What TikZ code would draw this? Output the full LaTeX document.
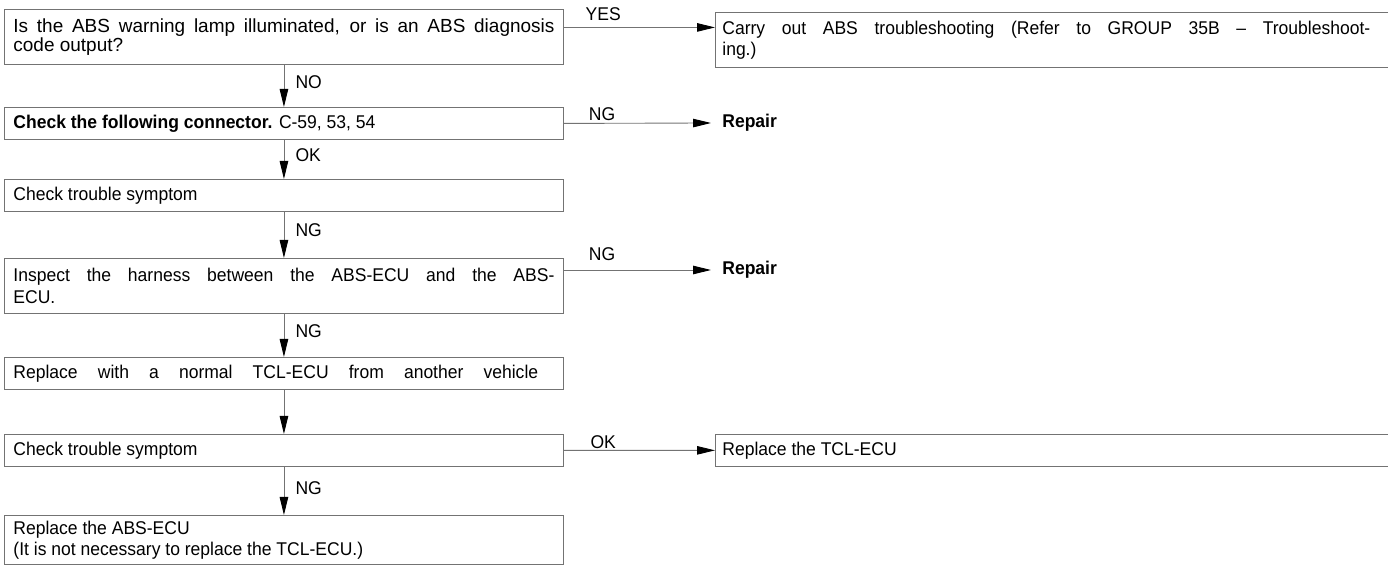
\documentclass[tikz,border=0pt]{standalone}
\usepackage{fontspec}
\setmainfont{Liberation Sans}
\newfontfamily\estrecha{Liberation Sans}[FakeStretch=0.95]
\usetikzlibrary{arrows.meta}

\begin{document}
\begin{tikzpicture}[
  caja/.style={draw=black!55, line width=0.5pt, anchor=north west, inner xsep=0.18cm, inner ysep=0pt,
    text width=10.82cm, align=justify, font=\estrecha\fontsize{10.5}{12}\selectfont},
  una/.style={caja, minimum height=0.64cm},
  dos/.style={caja, minimum height=1.1cm},
  lado/.style={anchor=north west, inner xsep=0.14cm, inner ysep=0pt, text width=12.96cm,
    align=justify, font=\estrecha\fontsize{10.5}{12}\selectfont},
  borde/.style={draw=black!55, line width=0.5pt},
  flecha/.style={draw=black!55, line width=0.5pt, -{Triangle[length=0.36cm, width=0.17cm, color=black]}},
  etiq/.style={font=\estrecha\fontsize{10.5}{12}\selectfont},
  rep/.style={anchor=west, inner xsep=0.22cm, font=\estrecha\bfseries\fontsize{10.5}{12}\selectfont},
]
\useasboundingbox (0,0) rectangle (27.84,11.32);
\coordinate (fin) at (27.76,0);

% Columna izquierda
\node[dos, font=\fontsize{10.8}{10.8}\selectfont] (lampara) at (0.08,11.14)
  {Is the ABS warning lamp illuminated, or is an ABS diagnosis\linebreak code output?};
\node[una] (conector) at (0.08,9.18) {\textbf{Check the following connector.} C-59, 53, 54};
\node[una] (sintoma) at (0.08,7.74) {Check trouble symptom};
\node[dos] (arnes) at (0.08,6.16) {Inspect the harness between the ABS-ECU and the ABS-\linebreak ECU.};
\node[una] (cambio) at (0.08,4.18) {\makebox[0.97\linewidth][s]{Replace with a normal TCL-ECU from another vehicle}};
\node[una] (sintomados) at (0.08,2.64) {Check trouble symptom};
\node[dos, minimum height=0.98cm] (absecu) at (0.08,1.02)
  {Replace the ABS-ECU\\(It is not necessary to replace the TCL-ECU.)};

% Columna derecha (cajas abiertas por la derecha)
\node[lado, minimum height=1.1cm] (grupo) at (14.3,11.08)
  {Carry out ABS troubleshooting (Refer to GROUP 35B – Troubleshoot-\linebreak ing.)};
\draw[borde] (grupo.north west -| fin) -- (grupo.north west) -- (grupo.south west) -- (grupo.south west -| fin);
\node[lado, minimum height=0.64cm] (tcl) at (14.3,2.64) {Replace the TCL-ECU};
\draw[borde] (tcl.north west -| fin) -- (tcl.north west) -- (tcl.south west) -- (tcl.south west -| fin);
\node[rep] (reparar) at (14.22,8.86) {Repair};
\node[rep] (reparardos) at (14.22,5.92) {Repair};

% Flechas verticales
\draw[flecha] (lampara.south) -- node[etiq, right=3pt, pos=0.4] {NO} (conector.north);
\draw[flecha] (conector.south) -- node[etiq, right=3pt, pos=0.4] {OK} (sintoma.north);
\draw[flecha] (sintoma.south) -- node[etiq, right=3pt, pos=0.4] {NG} (arnes.north);
\draw[flecha] (arnes.south) -- node[etiq, right=3pt, pos=0.4] {NG} (cambio.north);
\draw[flecha] (cambio.south) -- (sintomados.north);
\draw[flecha] (sintomados.south) -- node[etiq, right=3pt, pos=0.45] {NG} (absecu.north);

% Flechas horizontales
\coordinate (si) at ([yshift=0.19cm]lampara.east);
\draw[flecha] (si) -- node[etiq, above, pos=0.26] {YES} (si -| grupo.west);
\draw[flecha] (conector.east) -- node[etiq, above, pos=0.26, inner sep=1pt] {NG} (reparar.west);
\draw[flecha] (arnes.east |- reparardos.west) -- node[etiq, above=2pt, pos=0.26] {NG} (reparardos.west);
\draw[flecha] (sintomados.east) -- node[etiq, above, pos=0.26, inner sep=1pt] {OK} (tcl.west);
\end{tikzpicture}
\end{document}
